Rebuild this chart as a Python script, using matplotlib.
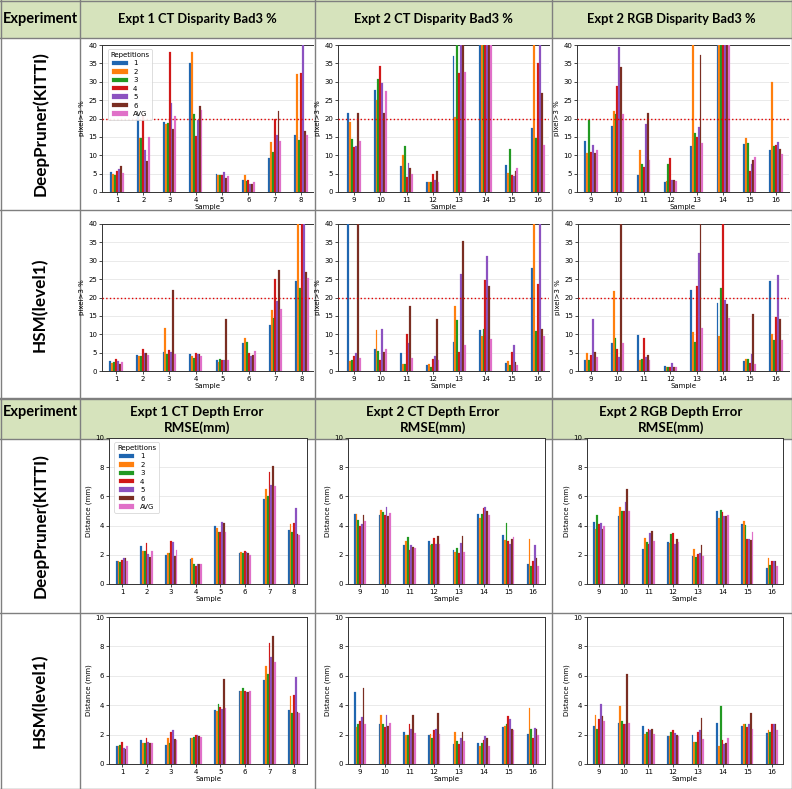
import matplotlib
matplotlib.use('Agg')
import matplotlib.pyplot as plt
from matplotlib.patches import Rectangle
import numpy as np

W, H = 792, 789
fig = plt.figure(figsize=(W / 100, H / 100), dpi=100)

series_names = ['1', '2', '3', '4', '5', '6', 'AVG']
colors = ['#1f66b0', '#ff7f0e', '#229922', '#d01818', '#8c52c0', '#7a2e22', '#e070c8']
samples_e1 = ['1', '2', '3', '4', '5', '6', '7', '8']
samples_e2 = ['9', '10', '11', '12', '13', '14', '15', '16']

col_titles_top = ['Expt 1 CT Disparity Bad3 %', 'Expt 2 CT Disparity Bad3 %', 'Expt 2 RGB Disparity Bad3 %']
col_titles_bot = ['Expt 1 CT Depth Error\nRMSE(mm)', 'Expt 2 CT Depth Error\nRMSE(mm)', 'Expt 2 RGB Depth Error\nRMSE(mm)']
row_labels = ['DeepPruner(KITTI)', 'HSM(level1)']

# values per sample: [rep1, rep2, rep3, rep4, rep5, rep6, AVG]
dp_e1_ct_bad3 = [
    [5.4, 5.0, 4.6, 5.7, 6.3, 7.2, 5.3],
    [21.2, 14.7, 14.7, 21.0, 11.4, 8.5, 15.0],
    [19.1, 18.4, 18.8, 38.0, 24.3, 17.1, 20.6],
    [35.0, 38.2, 21.3, 15.3, 19.7, 23.4, 22.2],
    [5.0, 4.6, 4.6, 4.6, 5.5, 3.8, 4.3],
    [3.4, 4.7, 3.0, 3.2, 2.2, 2.2, 2.6],
    [9.2, 13.6, 11.0, 20.0, 15.5, 22.0, 13.8],
    [15.6, 32.2, 14.2, 32.3, 45.0, 16.6, 15.6],
]
dp_e2_ct_bad3 = [
    [21.5, 19.1, 14.3, 12.3, 12.5, 21.5, 13.9],
    [27.7, 25.1, 30.7, 34.3, 29.7, 21.5, 27.6],
    [7.2, 10.2, 12.5, 4.0, 8.0, 6.4, 4.8],
    [2.8, 2.6, 2.6, 5.0, 3.2, 5.6, 2.8],
    [37.0, 20.3, 45.0, 32.4, 45.0, 45.0, 32.7],
    [45.0, 45.0, 45.0, 45.0, 45.0, 45.0, 45.0],
    [7.3, 5.1, 11.8, 4.5, 4.3, 5.7, 6.6],
    [17.3, 45.0, 14.6, 35.1, 45.0, 27.0, 12.7],
]
dp_e2_rgb_bad3 = [
    [13.8, 10.7, 19.5, 11.0, 12.7, 10.7, 11.5],
    [18.0, 22.0, 21.1, 28.9, 39.5, 34.0, 21.3],
    [4.7, 11.4, 7.7, 6.8, 18.5, 21.5, 8.7],
    [2.8, 2.9, 7.6, 9.2, 3.2, 3.4, 2.9],
    [12.6, 45.0, 16.1, 15.1, 17.6, 37.3, 13.3],
    [45.0, 45.0, 45.0, 45.0, 45.0, 45.0, 45.0],
    [13.1, 14.7, 13.2, 5.6, 7.6, 8.7, 9.5],
    [11.4, 30.0, 12.6, 12.7, 13.5, 11.7, 10.3],
]
hsm_e1_ct_bad3 = [
    [2.6, 2.3, 2.5, 3.2, 2.6, 1.9, 2.5],
    [4.4, 4.0, 4.0, 5.9, 5.0, 4.9, 4.3],
    [5.2, 11.7, 4.6, 5.7, 5.2, 22.1, 4.6],
    [4.6, 4.0, 3.5, 4.9, 4.6, 4.6, 4.0],
    [3.0, 2.5, 3.2, 3.1, 3.0, 14.1, 3.1],
    [7.5, 9.0, 7.8, 4.8, 4.0, 4.3, 5.5],
    [12.4, 16.6, 14.4, 25.1, 19.0, 27.4, 16.8],
    [24.5, 45.0, 22.7, 45.0, 45.0, 27.0, 25.4],
]
hsm_e2_ct_bad3 = [
    [45.0, 2.7, 3.0, 4.2, 5.0, 45.0, 3.5],
    [5.9, 11.2, 5.5, 3.0, 11.5, 5.2, 6.1],
    [4.9, 1.9, 1.9, 10.0, 7.5, 17.6, 3.6],
    [1.5, 1.8, 1.0, 3.3, 4.1, 14.2, 2.9],
    [8.0, 17.7, 14.0, 5.2, 26.4, 35.3, 7.2],
    [11.2, 9.6, 11.4, 24.7, 31.2, 23.0, 8.7],
    [2.2, 2.6, 1.6, 5.1, 7.0, 2.4, 1.6],
    [28.1, 45.0, 10.9, 23.8, 45.0, 11.4, 9.6],
]
hsm_e2_rgb_bad3 = [
    [3.0, 5.0, 2.9, 4.3, 14.2, 5.1, 3.8],
    [7.6, 21.8, 8.9, 6.0, 3.8, 45.0, 7.6],
    [9.8, 3.1, 3.3, 9.0, 3.8, 4.3, 3.0],
    [1.3, 1.2, 1.0, 1.0, 2.3, 1.1, 1.1],
    [22.0, 10.6, 7.9, 23.2, 32.1, 45.0, 11.6],
    [18.6, 9.6, 22.5, 45.0, 19.2, 18.1, 14.4],
    [2.8, 3.2, 3.4, 2.1, 4.5, 15.5, 1.9],
    [24.5, 10.2, 8.3, 14.6, 26.2, 14.1, 8.5],
]
dp_e1_ct_rmse = [
    [1.6, 1.55, 1.5, 1.65, 1.75, 1.8, 1.6],
    [2.6, 2.25, 2.25, 2.8, 2.05, 1.85, 2.25],
    [2.0, 2.1, 2.1, 2.95, 2.85, 1.9, 2.3],
    [1.7, 1.8, 1.4, 1.25, 1.35, 1.4, 1.4],
    [4.0, 3.85, 3.55, 3.55, 4.25, 4.15, 3.55],
    [2.1, 2.2, 2.1, 2.25, 2.2, 2.15, 2.0],
    [5.8, 6.5, 6.05, 7.7, 6.8, 8.1, 6.7],
    [3.7, 4.1, 3.55, 4.2, 5.2, 3.4, 3.35],
]
dp_e2_ct_rmse = [
    [4.8, 4.8, 4.4, 4.0, 4.1, 4.75, 4.3],
    [4.7, 5.1, 4.9, 4.75, 5.3, 4.65, 4.85],
    [2.7, 2.95, 3.2, 2.3, 2.7, 2.55, 2.5],
    [2.95, 2.65, 2.75, 3.15, 2.75, 3.3, 2.75],
    [2.3, 2.2, 2.45, 2.15, 2.8, 3.3, 2.2],
    [4.8, 4.55, 4.8, 5.2, 5.3, 5.0, 4.7],
    [3.35, 3.0, 4.15, 2.95, 2.75, 3.1, 3.2],
    [1.35, 3.05, 1.25, 1.6, 2.65, 1.8, 1.2],
]
dp_e2_rgb_rmse = [
    [4.25, 3.8, 4.7, 4.1, 4.2, 3.8, 4.0],
    [4.65, 5.3, 5.0, 5.0, 5.6, 6.5, 5.0],
    [2.4, 3.15, 2.9, 2.75, 3.5, 3.65, 2.95],
    [2.85, 2.8, 3.4, 3.5, 2.75, 3.1, 2.9],
    [1.95, 2.4, 1.85, 2.05, 2.1, 2.7, 1.9],
    [5.0, 4.55, 5.1, 4.9, 4.65, 4.65, 4.7],
    [4.1, 4.3, 4.05, 3.1, 3.1, 3.0, 3.55],
    [1.1, 1.8, 1.3, 1.6, 1.6, 1.55, 1.25],
]
hsm_e1_ct_rmse = [
    [1.25, 1.2, 1.3, 1.5, 1.1, 1.0, 1.2],
    [1.6, 1.45, 1.45, 1.8, 1.5, 1.45, 1.45],
    [1.3, 1.75, 1.4, 2.15, 2.3, 1.7, 1.6],
    [1.8, 1.75, 1.85, 2.0, 1.95, 1.9, 1.85],
    [3.65, 3.6, 4.1, 3.9, 3.75, 5.75, 3.8],
    [5.0, 4.95, 5.15, 5.0, 4.9, 4.9, 5.0],
    [5.7, 6.7, 6.1, 8.2, 7.25, 8.7, 6.95],
    [3.65, 4.6, 3.5, 4.7, 5.9, 3.55, 3.5],
]
hsm_e2_ct_rmse = [
    [4.9, 2.5, 2.7, 2.9, 3.2, 5.15, 2.75],
    [2.75, 3.3, 2.75, 2.5, 3.35, 2.6, 2.8],
    [2.2, 1.95, 1.95, 2.75, 2.35, 3.3, 2.1],
    [1.95, 2.05, 1.75, 2.3, 2.35, 3.45, 2.05],
    [1.35, 2.2, 1.55, 1.35, 1.8, 2.2, 1.55],
    [1.4, 1.2, 1.4, 1.6, 1.9, 1.8, 1.25],
    [2.55, 2.6, 2.7, 3.25, 3.05, 2.4, 2.3],
    [2.05, 3.8, 2.4, 1.8, 2.45, 2.35, 1.95],
]
hsm_e2_rgb_rmse = [
    [2.6, 3.3, 2.35, 3.05, 4.05, 3.25, 2.9],
    [2.8, 3.95, 2.9, 2.7, 2.75, 6.1, 2.8],
    [2.6, 2.05, 2.15, 2.4, 2.3, 2.35, 2.05],
    [1.9, 1.9, 2.15, 2.3, 2.1, 1.95, 1.9],
    [2.0, 1.5, 1.5, 2.15, 2.3, 3.1, 1.7],
    [2.8, 1.2, 3.95, 1.6, 1.35, 1.4, 1.75],
    [2.6, 2.75, 2.7, 2.5, 2.75, 3.5, 2.4],
    [2.1, 2.3, 2.2, 2.75, 2.75, 2.7, 2.3],
]

HEADER_GREEN = '#d6e3bc'
BORDER = '#7f7f7f'
HFONT = 'Lato'


def fx(x):
    return x / W


def fy(y):
    return 1 - y / H


# ---------- table background, header bands and borders ----------
bg = fig.add_axes([0, 0, 1, 1])
bg.set_xlim(0, W)
bg.set_ylim(H, 0)
bg.axis('off')
bg.add_patch(Rectangle((0, 0), W, 38, facecolor=HEADER_GREEN, edgecolor='none'))
bg.add_patch(Rectangle((0, 399), W, 40, facecolor=HEADER_GREEN, edgecolor='none'))
for y in [0.5, 38, 210, 398, 399, 439, 613, 788.5]:
    bg.plot([0, W], [y, y], color=BORDER, lw=1.0)
for x in [0.5, 80, 315, 552, 791.5]:
    bg.plot([x, x], [0, 398], color=BORDER, lw=1.0)
    bg.plot([x, x], [399, H], color=BORDER, lw=1.0)

# header texts
fig.text(fx(40), fy(19), 'Experiment', ha='center', va='center', fontsize=10.5,
         fontweight='bold', family=HFONT)
fig.text(fx(40), fy(412), 'Experiment', ha='center', va='center', fontsize=10.5,
         fontweight='bold', family=HFONT)
for cx, t in zip([197, 433, 671], col_titles_top):
    fig.text(fx(cx), fy(19), t, ha='center', va='center', fontsize=9.3,
             fontweight='bold', family=HFONT)
for cx, t in zip([197, 433, 671], col_titles_bot):
    fig.text(fx(cx), fy(420), t, ha='center', va='center', fontsize=9.6,
             fontweight='bold', family=HFONT, linespacing=1.3)
for cy, t in zip([124, 305, 526, 701], row_labels * 2):
    fig.text(fx(40), fy(cy), t, ha='center', va='center', fontsize=12.3,
             fontweight='bold', family=HFONT, rotation=90)

# ---------- panels ----------
# (left, right, first tick, last tick) in px for each column; (top, bottom) for each row
cols_disp = [(102, 313, 117, 301), (338, 549, 354, 538), (577, 789, 591, 776)]
cols_disp2 = [(102, 313, 116, 302), (338, 549, 354, 538), (578, 789, 591, 776)]
cols_depth = [(109, 307, 122, 294), (348, 545, 360, 533), (587, 783, 599, 772)]
rows = [
    dict(tb=(45, 192), cols=cols_disp, data=[dp_e1_ct_bad3, dp_e2_ct_bad3, dp_e2_rgb_bad3],
         ylim=40, yticks=np.arange(0, 41, 5), ylabel='pixel>3 %', thresh=True, legend=True),
    dict(tb=(224, 371), cols=cols_disp2, data=[hsm_e1_ct_bad3, hsm_e2_ct_bad3, hsm_e2_rgb_bad3],
         ylim=40, yticks=np.arange(0, 41, 5), ylabel='pixel>3 %', thresh=True, legend=False),
    dict(tb=(438, 584), cols=cols_depth, data=[dp_e1_ct_rmse, dp_e2_ct_rmse, dp_e2_rgb_rmse],
         ylim=10, yticks=np.arange(0, 11, 2), ylabel='Distance (mm)', thresh=False, legend=True),
    dict(tb=(617, 764), cols=cols_depth, data=[hsm_e1_ct_rmse, hsm_e2_ct_rmse, hsm_e2_rgb_rmse],
         ylim=10, yticks=np.arange(0, 11, 2), ylabel='Distance (mm)', thresh=False, legend=False),
]

n_series = len(series_names)
bw = 0.5 / n_series
for r, row in enumerate(rows):
    top, bot = row['tb']
    for c, (l, rgt, t0, t7) in enumerate(row['cols']):
        ax = fig.add_axes([fx(l), fy(bot), (rgt - l) / W, (bot - top) / H])
        vals = np.array(row['data'][c])
        labels = samples_e1 if c == 0 else samples_e2
        x = np.arange(len(labels))
        for i, name in enumerate(series_names):
            ax.bar(x + (i - (n_series - 1) / 2) * bw, vals[:, i], width=bw,
                   color=colors[i], label=name, edgecolor=colors[i], linewidth=0.15,
                   zorder=3)
        s = (t7 - t0) / 7.0
        ax.set_xlim((l - t0) / s, 7 + (rgt - t7) / s)
        ax.set_ylim(0, row['ylim'])
        ax.set_yticks(row['yticks'])
        ax.set_xticks(x)
        ax.set_xticklabels(labels, rotation=0)
        ax.tick_params(labelsize=5, length=2, width=0.5, pad=1.5)
        ax.yaxis.grid(True, color='#e6e6e6', lw=0.6, zorder=0)
        ax.set_axisbelow(True)
        for sp in ax.spines.values():
            sp.set_linewidth(0.7)
            sp.set_color('#333333')
        if r < 2:
            ax.spines['right'].set_visible(False)
        ax.set_ylabel(row['ylabel'], fontsize=5, labelpad=2)
        ax.set_xlabel('Sample', fontsize=5, labelpad=1)
        if row['thresh']:
            ax.axhline(20, color='#e00000', ls=':', lw=1.0, zorder=4)
        if row['legend'] and c == 0:
            leg = ax.legend(title='Repetitions', loc='upper left', fontsize=5,
                            title_fontsize=5, handlelength=2.2, handleheight=0.6,
                            labelspacing=0.35, borderpad=0.4, framealpha=0.9,
                            bbox_to_anchor=(0.01, 0.995))
            leg.get_frame().set_linewidth(0.5)
        ax.set_zorder(2)

fig.savefig('out.png', dpi=100)
